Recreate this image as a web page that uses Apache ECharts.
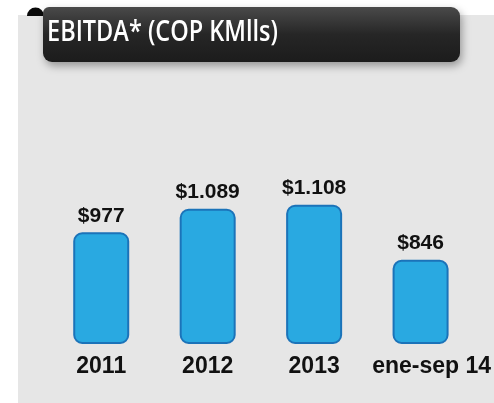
<!DOCTYPE html>
<html>
<head>
<meta charset="utf-8">
<script src="https://cdn.jsdelivr.net/npm/echarts@6/dist/echarts.min.js"></script>
<style>
  html, body { margin: 0; padding: 0; background: #fff; }
  #main { width: 494px; height: 403px; }
</style>
</head>
<body>
<div id="main"></div>
<script>
var categories = ['2011', '2012', '2013', 'ene-sep 14'];
var values = [977, 1089, 1108, 846];
var valueLabels = ['$977', '$1.089', '$1.108', '$846'];
var titleText = 'EBITDA* (COP KMlls)';

var chart = echarts.init(document.getElementById('main'));

var option = {
  animation: false,
  backgroundColor: '#fff',
  graphic: [
    {
      type: 'rect', z: -10, silent: true,
      shape: { x: 18, y: 15, width: 476, height: 388 },
      style: { fill: '#e6e6e6' }
    },
    {
      type: 'sector', z: 1, silent: true,
      shape: { cx: 35.5, cy: 16, r: 8.5, r0: 0, startAngle: Math.PI, endAngle: Math.PI * 2 },
      style: { fill: '#0a0a0a' }
    },
    {
      type: 'rect', z: 2, silent: true,
      shape: { x: 43, y: 7, width: 417, height: 55, r: [6, 9, 9, 9] },
      style: {
        fill: new echarts.graphic.LinearGradient(0, 0, 0, 1, [
          { offset: 0, color: '#4a4a4a' },
          { offset: 0.5, color: '#262626' },
          { offset: 1, color: '#1c1c1c' }
        ]),
        shadowBlur: 8, shadowOffsetX: 2, shadowOffsetY: 4, shadowColor: 'rgba(0,0,0,0.35)'
      }
    },
    {
      type: 'text', z: 3, silent: true,
      x: 47, y: 33, scaleX: 0.84,
      style: {
        text: titleText,
        fill: '#fff',
        font: '600 28px "Open Sans", sans-serif',
        verticalAlign: 'middle'
      }
    }
  ],
  grid: { left: 48, right: 20, top: 100, bottom: 60 },
  xAxis: {
    type: 'category',
    data: categories.map(function (c, i) {
      return i === 3 ? { value: c, textStyle: { padding: [0, 0, 0, 22] } } : c;
    }),
    axisLine: { show: false },
    axisTick: { show: false },
    axisLabel: {
      interval: 0,
      margin: 12,
      color: '#111',
      fontWeight: 'bold',
      fontSize: 23,
      fontFamily: 'Liberation Sans, Arial, sans-serif'
    }
  },
  yAxis: {
    type: 'value',
    min: 450,
    max: 1607,
    show: false,
    splitLine: { show: false }
  },
  series: [
    {
      type: 'bar',
      data: values,
      barWidth: 56,
      itemStyle: {
        color: '#29a9e1',
        borderColor: '#1b73b9',
        borderWidth: 2,
        borderRadius: 8
      },
      label: {
        show: true,
        position: 'top',
        distance: 6,
        color: '#111',
        fontWeight: 'bold',
        fontSize: 21,
        fontFamily: 'Liberation Sans, Arial, sans-serif',
        formatter: function (p) { return valueLabels[p.dataIndex]; }
      }
    }
  ]
};
chart.setOption(option);
window.onresize = chart.resize;
</script>
</body>
</html>
